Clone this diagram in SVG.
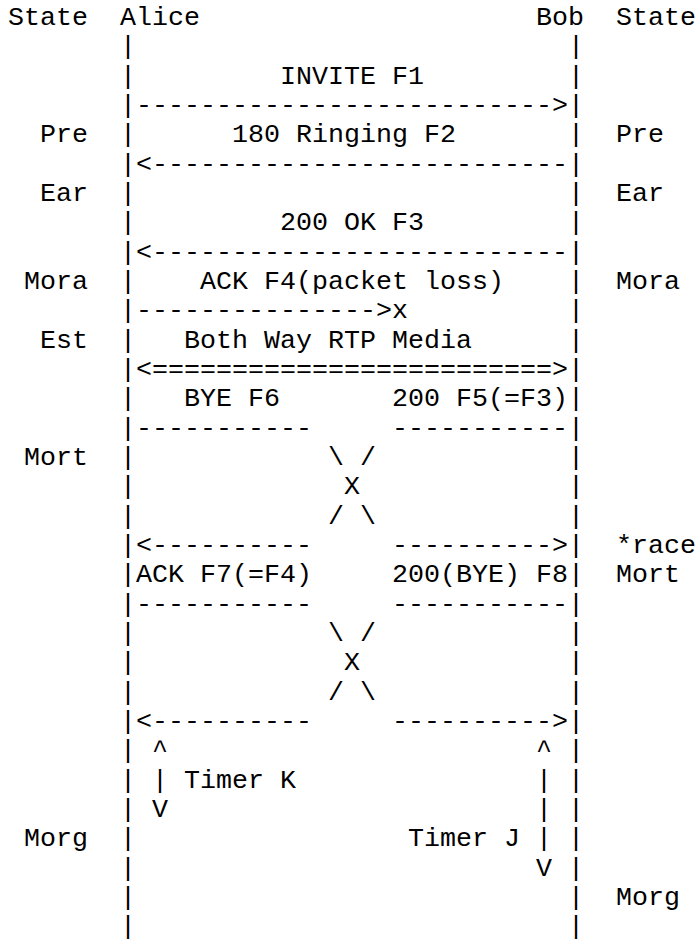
<svg xmlns="http://www.w3.org/2000/svg" width="698" height="940" viewBox="0 0 698 940">
<style>
text{font-family:"Liberation Mono","Courier New",monospace;font-size:26.667px;fill:#000;white-space:pre}
</style>
<rect x="0" y="0" width="698" height="940" fill="#fff"/>
<g id="header">
<text x="8" y="25">State</text>
<text x="120" y="25">Alice</text>
<text x="536" y="25">Bob</text>
<text x="616" y="25">State</text>
</g>
<g id="alice-lifeline">
<text x="120" y="54.33">|</text><text x="120" y="83.67">|</text><text x="120" y="113">|</text><text x="120" y="142.33">|</text><text x="120" y="171.67">|</text><text x="120" y="201">|</text><text x="120" y="230.33">|</text><text x="120" y="259.67">|</text><text x="120" y="289">|</text><text x="120" y="318.33">|</text><text x="120" y="347.67">|</text><text x="120" y="377">|</text><text x="120" y="406.33">|</text><text x="120" y="435.67">|</text><text x="120" y="465">|</text><text x="120" y="494.33">|</text><text x="120" y="523.67">|</text><text x="120" y="553">|</text><text x="120" y="582.33">|</text><text x="120" y="611.67">|</text><text x="120" y="641">|</text><text x="120" y="670.33">|</text><text x="120" y="699.67">|</text><text x="120" y="729">|</text><text x="120" y="758.33">|</text><text x="120" y="787.67">|</text><text x="120" y="817">|</text><text x="120" y="846.33">|</text><text x="120" y="875.67">|</text><text x="120" y="905">|</text><text x="120" y="934.33">|</text>
</g>
<g id="bob-lifeline">
<text x="568" y="54.33">|</text><text x="568" y="83.67">|</text><text x="568" y="113">|</text><text x="568" y="142.33">|</text><text x="568" y="171.67">|</text><text x="568" y="201">|</text><text x="568" y="230.33">|</text><text x="568" y="259.67">|</text><text x="568" y="289">|</text><text x="568" y="318.33">|</text><text x="568" y="347.67">|</text><text x="568" y="377">|</text><text x="568" y="406.33">|</text><text x="568" y="435.67">|</text><text x="568" y="465">|</text><text x="568" y="494.33">|</text><text x="568" y="523.67">|</text><text x="568" y="553">|</text><text x="568" y="582.33">|</text><text x="568" y="611.67">|</text><text x="568" y="641">|</text><text x="568" y="670.33">|</text><text x="568" y="699.67">|</text><text x="568" y="729">|</text><text x="568" y="758.33">|</text><text x="568" y="787.67">|</text><text x="568" y="817">|</text><text x="568" y="846.33">|</text><text x="568" y="875.67">|</text><text x="568" y="905">|</text><text x="568" y="934.33">|</text>
</g>
<g id="states-alice">
<text x="40" y="142.33">Pre</text>
<text x="40" y="201">Ear</text>
<text x="24" y="289">Mora</text>
<text x="40" y="347.67">Est</text>
<text x="24" y="465">Mort</text>
<text x="24" y="846.33">Morg</text>
</g>
<g id="states-bob">
<text x="616" y="142.33">Pre</text>
<text x="616" y="201">Ear</text>
<text x="616" y="289">Mora</text>
<text x="616" y="553">*race</text>
<text x="616" y="582.33">Mort</text>
<text x="616" y="905">Morg</text>
</g>
<g id="connectors">
<text x="136" y="113">--------------------------&gt;</text>
<text x="136" y="171.67">&lt;--------------------------</text>
<text x="136" y="259.67">&lt;--------------------------</text>
<text x="136" y="318.33">---------------&gt;x</text>
<text x="136" y="377">&lt;=========================&gt;</text>
<text x="136" y="435.67">-----------</text>
<text x="392" y="435.67">-----------</text>
<text x="328" y="465">\ /</text>
<text x="344" y="494.33">X</text>
<text x="328" y="523.67">/ \</text>
<text x="136" y="553">&lt;----------</text>
<text x="392" y="553">----------&gt;</text>
<text x="136" y="611.67">-----------</text>
<text x="392" y="611.67">-----------</text>
<text x="328" y="641">\ /</text>
<text x="344" y="670.33">X</text>
<text x="328" y="699.67">/ \</text>
<text x="136" y="729">&lt;----------</text>
<text x="392" y="729">----------&gt;</text>
</g>
<g id="timer-k">
<text x="152" y="758.33">^</text>
<text x="152" y="787.67">|</text>
<text x="152" y="817">V</text>
<text x="184" y="787.67">Timer K</text>
</g>
<g id="timer-j">
<text x="536" y="758.33">^</text>
<text x="536" y="787.67">|</text>
<text x="536" y="817">|</text>
<text x="536" y="846.33">|</text>
<text x="536" y="875.67">V</text>
<text x="408" y="846.33">Timer J</text>
</g>
<g id="labels">
<text x="280" y="83.67">INVITE F1</text>
<text x="232" y="142.33">180 Ringing F2</text>
<text x="280" y="230.33">200 OK F3</text>
<text x="200" y="289">ACK F4(packet loss)</text>
<text x="184" y="347.67">Both Way RTP Media</text>
<text x="184" y="406.33">BYE F6</text>
<text x="392" y="406.33">200 F5(=F3)</text>
<text x="136" y="582.33">ACK F7(=F4)</text>
<text x="392" y="582.33">200(BYE) F8</text>
</g>
</svg>
